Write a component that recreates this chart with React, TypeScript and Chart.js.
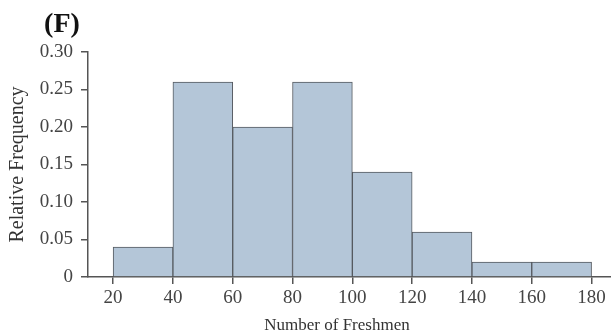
import React, { useEffect, useRef } from "react";
import { Chart, registerables } from "chart.js";

Chart.register(...registerables);

const binStarts = [20, 40, 60, 80, 100, 120, 140, 160];
const binWidth = 20;
const relFreq = [0.04, 0.26, 0.2, 0.26, 0.14, 0.06, 0.02, 0.02];
const xTicks = [20, 40, 60, 80, 100, 120, 140, 160, 180];
const yTicks = [0, 0.05, 0.1, 0.15, 0.2, 0.25, 0.3];
const panelLabel = "(F)";
const xTitle = "Number of Freshmen";
const yTitle = "Relative Frequency";

const SERIF = "'Liberation Serif', 'Times New Roman', serif";

export default function App() {
  const ref = useRef<HTMLCanvasElement | null>(null);
  useEffect(() => {
    document.body.style.margin = "0";
    const canvas = ref.current!;
    const textPlugin = {
      id: "texts",
      afterDraw(chart: any) {
        const ctx = chart.ctx;
        ctx.save();
        ctx.fillStyle = "#111";
        ctx.font = `bold 28px ${SERIF}`;
        ctx.textAlign = "center";
        ctx.textBaseline = "alphabetic";
        ctx.fillText(panelLabel, 62, 32);
        ctx.font = `17px ${SERIF}`;
        ctx.fillStyle = "#333";
        ctx.textBaseline = "middle";
        ctx.fillText(xTitle, 337, 326);
        ctx.restore();
      },
    };
    const chart = new Chart(canvas, {
      type: "bar",
      data: {
        datasets: [
          {
            data: binStarts.map((s, i) => ({ x: s + binWidth / 2, y: relFreq[i] })),
            backgroundColor: "#b4c6d8",
            borderColor: "#555a60",
            borderWidth: 1,
            barPercentage: 1,
            categoryPercentage: 1,
          },
        ],
      },
      options: {
        animation: false,
        responsive: false,
        layout: { padding: { top: 52, left: 0, right: 0, bottom: 0 } },
        plugins: { legend: { display: false }, tooltip: { enabled: false } },
        scales: {
          x: {
            type: "linear",
            min: 11.6,
            max: 186.5,
            offset: false,
            afterBuildTicks: (s: any) => {
              s.ticks = xTicks.map((v) => ({ value: v }));
            },
            afterFit: (s: any) => {
              s.height = 59;
            },
            grid: { offset: false, drawOnChartArea: false, tickLength: 7, color: "#555", lineWidth: 1.5 },
            border: { color: "#555", width: 1.5 },
            ticks: {
              color: "#444",
              font: { family: SERIF, size: 19 },
              padding: 3,
              maxRotation: 0,
              autoSkip: false,
            },
          },
          y: {
            min: 0,
            max: 0.3,
            afterBuildTicks: (s: any) => {
              s.ticks = yTicks.map((v) => ({ value: v }));
            },
            afterFit: (s: any) => {
              s.width = 88;
            },
            grid: { drawOnChartArea: false, tickLength: 7, color: "#555", lineWidth: 1.5 },
            border: { color: "#555", width: 1.5 },
            ticks: {
              color: "#444",
              font: { family: SERIF, size: 19 },
              padding: 8,
              callback: (v: any) => (v === 0 ? "0" : Number(v).toFixed(2)),
            },
            title: {
              display: true,
              text: yTitle,
              color: "#333",
              font: { family: SERIF, size: 20 },
              padding: { top: 6, bottom: 0 },
            },
          },
        },
      },
      plugins: [textPlugin],
    });
    return () => chart.destroy();
  }, []);
  return (
    <div style={{ position: "relative", width: 611, height: 336, background: "#fff" }}>
      <canvas ref={ref} width={611} height={336} style={{ display: "block" }} />
    </div>
  );
}
